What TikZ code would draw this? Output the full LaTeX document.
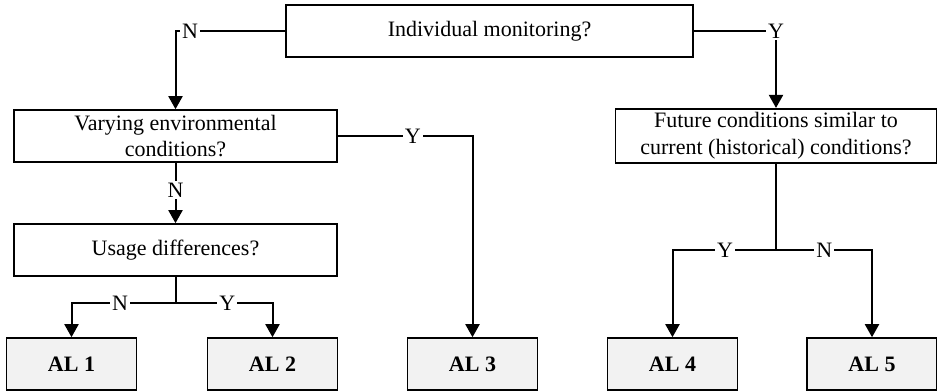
\documentclass[tikz,border=0pt]{standalone}
\usepackage{fontspec}
\setmainfont{Liberation Serif}
\usetikzlibrary{arrows.meta}
\begin{document}
\begin{tikzpicture}[x=0.5pt,y=-0.5pt,
  font=\fontsize{11}{13.3}\selectfont,
  question/.style={draw=black,line width=0.8pt,fill=white,align=center,
    minimum height=26pt,inner sep=2pt},
  level/.style={draw=black,line width=0.8pt,fill=black!5,
    minimum width=65pt,minimum height=26pt,font=\fontsize{11}{13.3}\selectfont\bfseries},
  link/.style={line width=1pt},
  flow/.style={link,-{Triangle[width=7pt,length=6.5pt]}},
  lbl/.style={fill=white,inner sep=1pt}]
\useasboundingbox (0,0) rectangle (937,391);

% decision boxes
\node[question,minimum width=203.5pt] (top)    at (489.5,31)  {Individual monitoring?};
\node[question,minimum width=161.5pt] (vary)   at (175.5,136) {Varying environmental\\conditions?};
\node[question,minimum width=160.5pt] (future) at (776,136)   {Future conditions similar to\\current (historical) conditions?};
\node[question,minimum width=161.5pt] (usage)  at (175.5,250) {Usage differences?};

% outcome levels
\node[level] (al1) at (71.5,364)  {AL 1};
\node[level] (al2) at (272.5,364) {AL 2};
\node[level] (al3) at (472.5,364) {AL 3};
\node[level] (al4) at (672.5,364) {AL 4};
\node[level] (al5) at (872,364)   {AL 5};

% branch points below the lower decisions
\coordinate (ub) at (175.5,303);
\coordinate (fb) at (776,250);

% connectors
\draw[flow] (top.west) -| node[lbl,pos=0.434]{N} (vary.north);
\draw[flow] (top.east) -| node[lbl,pos=0.5]{Y} (future.north);
\draw[flow] (vary.east) -| node[lbl,pos=0.278]{Y} (al3.north);
\draw[flow] (vary.south) -- node[lbl,pos=0.45]{N} (usage.north);

\draw[link] (usage.south) -- (ub);
\draw[flow] (ub) -| node[lbl,pos=0.266]{N} (al1.north);
\draw[flow] (ub) -| node[lbl,pos=0.267]{Y} (al2.north);

\draw[link] (future.south) -- (fb);
\draw[flow] (fb) -| node[lbl,pos=0.246]{Y} (al4.north);
\draw[flow] (fb) -| node[lbl,pos=0.251]{N} (al5.north);
\end{tikzpicture}
\end{document}
